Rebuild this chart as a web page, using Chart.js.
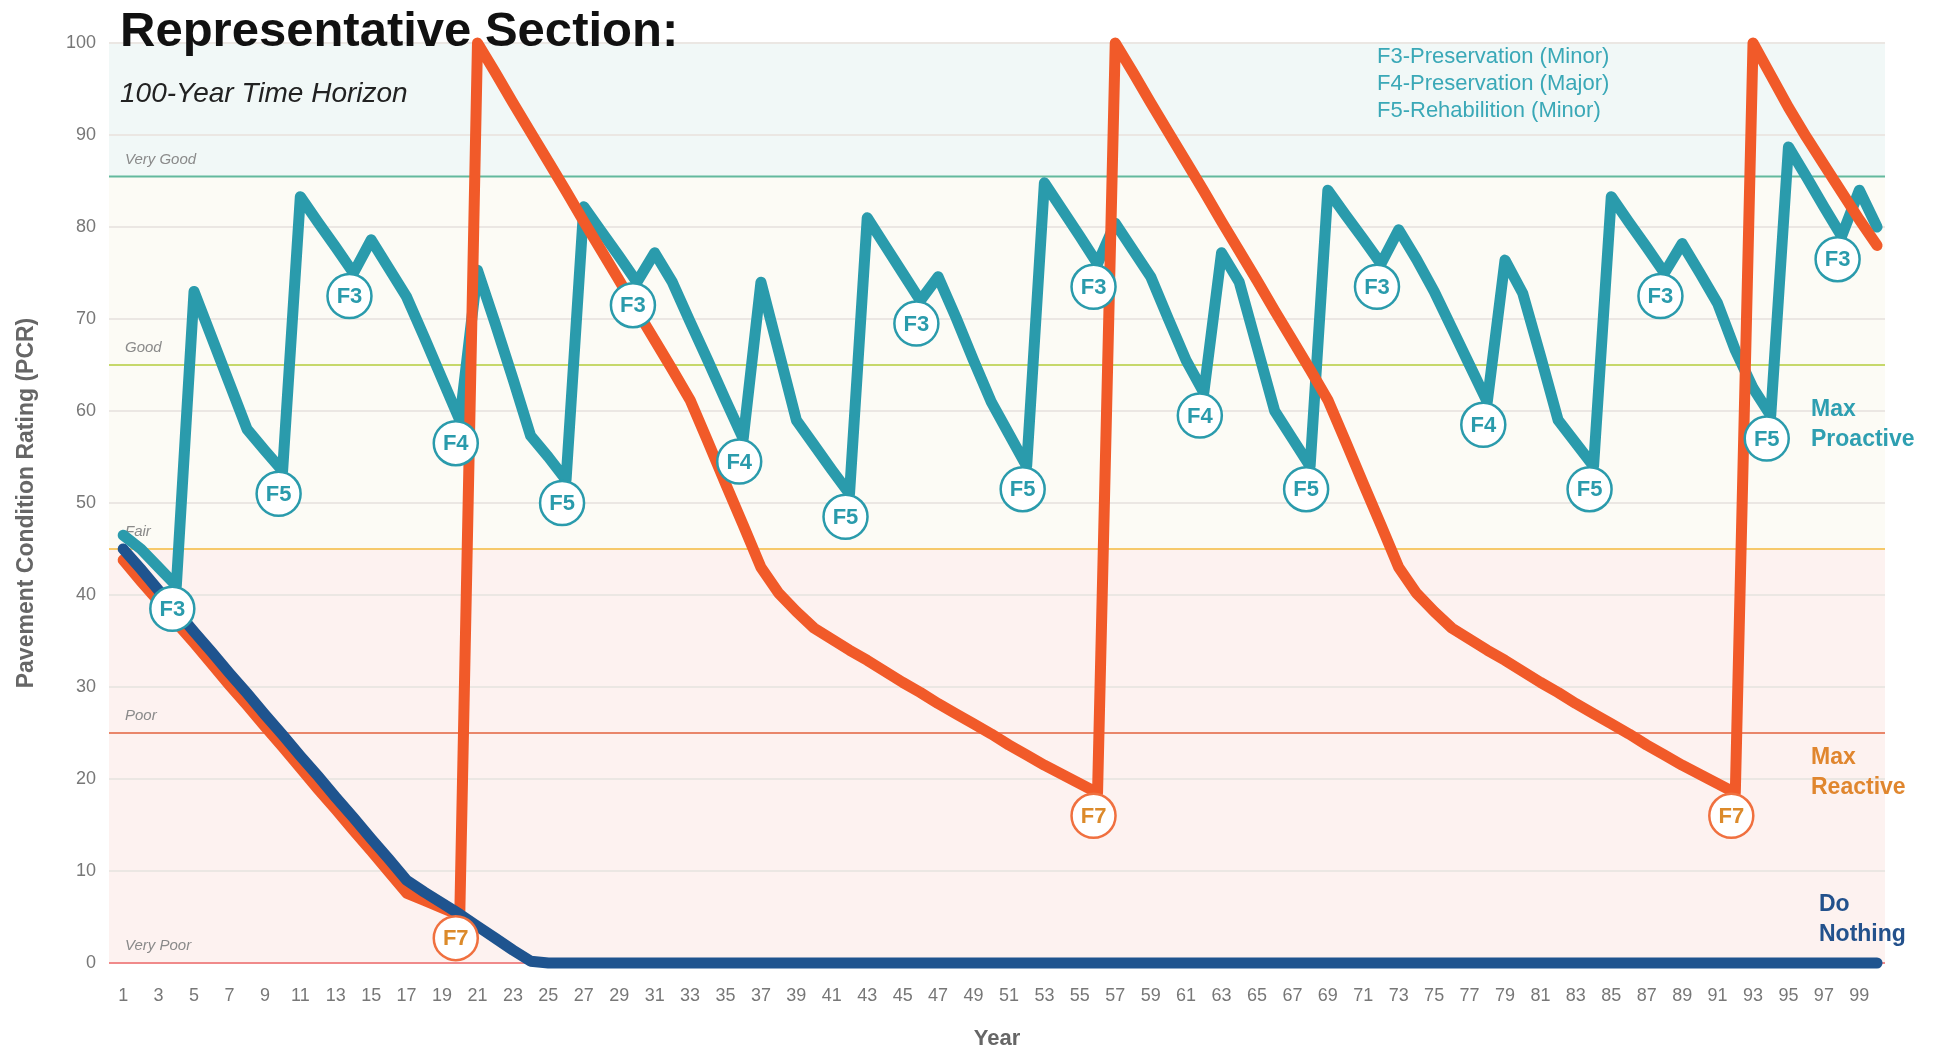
<!DOCTYPE html>
<html lang="en">
<head>
<meta charset="utf-8">
<title>Representative Section</title>
<script src="https://cdn.jsdelivr.net/npm/chart.js@4.4.1/dist/chart.umd.min.js"></script>
<style>
  html, body { margin: 0; padding: 0; background: #ffffff; }
  #wrap { width: 1936px; height: 1052px; position: relative; }
</style>
</head>
<body>
<div id="wrap"><canvas id="pcr"></canvas></div>
<script>
// years on the x axis
const years = Array.from({ length: 100 }, (_, i) => i + 1);
const yearTicks = years.filter(v => v % 2 === 1);

// PCR, year 1 .. 100
const maxProactive = [
  46.5, 45, 43, 41, 73, 68, 63, 58, 55.7, 53.5,
  83.3, 80.5, 77.8, 75, 78.6, 75.5, 72.4, 68, 63.5, 59,
  75.3, 69.5, 63.5, 57.3, 55, 52.5, 82.2, 79.5, 76.8, 74,
  77.2, 74, 69.7, 65.5, 61.2, 57, 74, 66.5, 59, 56.3,
  53.6, 51, 81, 78, 75, 72, 74.6, 70.2, 65.5, 61,
  57.5, 54, 84.8, 81.9, 79, 76, 80.4, 77.5, 74.6, 70,
  65.5, 62, 77.2, 74, 67, 60, 57, 54, 84, 81.3,
  78.7, 76, 79.7, 76.5, 73, 69, 65, 61, 76.4, 72.8,
  66, 59, 56.5, 54, 83.3, 80.5, 77.8, 75, 78.2, 75,
  71.7, 66.6, 62.5, 59.5, 88.7, 85.5, 82.2, 79, 84, 80
];
const maxReactive = [
  43.8, 41.5, 39.3, 37, 34.8, 32.5, 30.2, 28, 25.7, 23.5,
  21.2, 18.9, 16.7, 14.4, 12.2, 9.9, 7.6, 6.8, 6.0, 5.2,
  100, 96.8, 93.5, 90.3, 87.1, 83.9, 80.6, 77.4, 74.2, 70.9,
  67.7, 64.5, 61.2, 56.7, 52.1, 47.6, 43, 40.2, 38.2, 36.4,
  35.2, 34, 32.9, 31.7, 30.5, 29.4, 28.2, 27.1, 26, 24.9,
  23.7, 22.6, 21.5, 20.5, 19.5, 18.5, 100, 96.8, 93.5, 90.3,
  87.1, 83.9, 80.6, 77.4, 74.2, 70.9, 67.7, 64.5, 61.2, 56.7,
  52.1, 47.6, 43, 40.2, 38.2, 36.4, 35.2, 34, 32.9, 31.7,
  30.5, 29.4, 28.2, 27.1, 26, 24.9, 23.7, 22.6, 21.5, 20.5,
  19.5, 18.5, 100, 96.5, 93, 89.8, 86.8, 83.8, 80.8, 78
];
const doNothing = [
  45, 42.8, 40.5, 38.3, 36, 33.8, 31.5, 29.3, 27, 24.8,
  22.5, 20.3, 18, 15.8, 13.5, 11.3, 9, 7.7, 6.5, 5.3,
  4, 2.7, 1.4, 0.2, 0, 0, 0, 0, 0, 0,
  0, 0, 0, 0, 0, 0, 0, 0, 0, 0,
  0, 0, 0, 0, 0, 0, 0, 0, 0, 0,
  0, 0, 0, 0, 0, 0, 0, 0, 0, 0,
  0, 0, 0, 0, 0, 0, 0, 0, 0, 0,
  0, 0, 0, 0, 0, 0, 0, 0, 0, 0,
  0, 0, 0, 0, 0, 0, 0, 0, 0, 0,
  0, 0, 0, 0, 0, 0, 0, 0, 0, 0
];

// treatments marked with circles
const proTreatYears = [4, 10, 14, 20, 26, 30, 36, 42, 46, 52, 56, 62, 68, 72, 78, 84, 88, 94, 98];
const proTreatCodes = ['F3', 'F5', 'F3', 'F4', 'F5', 'F3', 'F4', 'F5', 'F3', 'F5', 'F3', 'F4', 'F5', 'F3', 'F4', 'F5', 'F3', 'F5', 'F3'];
const reactTreatYears = [20, 56, 92];
const reactTreatCodes = ['F7', 'F7', 'F7'];

// condition zones
const zoneNames = ['Very Good', 'Good', 'Fair', 'Poor', 'Very Poor'];
const zoneFloors = [85.5, 65, 45, 25, 0];
const legendLines = ['F3-Preservation (Minor)', 'F4-Preservation (Major)', 'F5-Rehabilition (Minor)'];

const FONT = '"Liberation Sans", Arial, sans-serif';
const TEAL = '#2a9bac';
const ORANGE = '#f15a29';
const NAVY = '#1f548f';

Chart.defaults.font.family = FONT;

const zoneLineColors = ['#63b99e', '#c6d86a', '#f6c96a', '#e9866a', '#f08a8a'];

const decor = {
  id: 'decor',
  beforeDraw(chart) {
    const { ctx, chartArea: a, scales: { y } } = chart;
    ctx.save();
    // background bands
    const bands = [[85.5, 100, '#f1f8f7'], [45, 85.5, '#fcfbf5'], [0, 45, '#fdf2f0']];
    bands.forEach(b => {
      const top = y.getPixelForValue(b[1]);
      const bot = y.getPixelForValue(b[0]);
      ctx.fillStyle = b[2];
      ctx.fillRect(a.left, top, a.right - a.left, bot - top);
    });
    ctx.restore();
  },
  beforeDatasetsDraw(chart) {
    const { ctx, chartArea: a, scales: { y } } = chart;
    ctx.save();
    zoneFloors.forEach((v, i) => {
      const py = y.getPixelForValue(v);
      ctx.strokeStyle = zoneLineColors[i];
      ctx.lineWidth = 2;
      ctx.beginPath();
      ctx.moveTo(a.left, py);
      ctx.lineTo(a.right, py);
      ctx.stroke();
      ctx.fillStyle = '#8a8a8a';
      ctx.font = 'italic 15px ' + FONT;
      ctx.textAlign = 'left';
      ctx.textBaseline = 'middle';
      ctx.fillText(zoneNames[i], a.left + 16, py - 17);
    });
    ctx.restore();
  },
  afterDatasetsDraw(chart) {
    const { ctx } = chart;
    const badge = (pt, text, stroke, color) => {
      const cx = pt.x - 4, cy = pt.y + 23;
      ctx.beginPath();
      ctx.arc(cx, cy, 22, 0, Math.PI * 2);
      ctx.fillStyle = '#ffffff';
      ctx.fill();
      ctx.lineWidth = 2.5;
      ctx.strokeStyle = stroke;
      ctx.stroke();
      ctx.fillStyle = color;
      ctx.font = 'bold 22px ' + FONT;
      ctx.textAlign = 'center';
      ctx.textBaseline = 'middle';
      ctx.fillText(text, cx, cy + 1);
    };
    ctx.save();
    const pro = chart.getDatasetMeta(2).data;
    proTreatYears.forEach((yr, i) => badge(pro[yr - 1], proTreatCodes[i], TEAL, TEAL));
    const re = chart.getDatasetMeta(1).data;
    reactTreatYears.forEach((yr, i) => badge(re[yr - 1], reactTreatCodes[i], '#f0703f', '#dc8a2a'));
    ctx.restore();
  },
  afterDraw(chart) {
    const { ctx } = chart;
    ctx.save();
    ctx.textAlign = 'left';
    ctx.textBaseline = 'alphabetic';
    ctx.fillStyle = '#111111';
    ctx.font = 'bold 49px ' + FONT;
    ctx.fillText('Representative Section:', 120, 46);
    ctx.fillStyle = '#222222';
    ctx.font = 'italic 28px ' + FONT;
    ctx.fillText('100-Year Time Horizon', 120, 102);

    ctx.textBaseline = 'middle';
    ctx.fillStyle = '#3aa8b7';
    ctx.font = '22px ' + FONT;
    legendLines.forEach((t, i) => ctx.fillText(t, 1377, 57 + i * 27));

    ctx.font = 'bold 23px ' + FONT;
    ctx.fillStyle = '#2e9fb1';
    ctx.fillText('Max', 1811, 410);
    ctx.fillText('Proactive', 1811, 440);
    ctx.fillStyle = '#e0862e';
    ctx.fillText('Max', 1811, 758);
    ctx.fillText('Reactive', 1811, 788);
    ctx.fillStyle = '#23518c';
    ctx.fillText('Do', 1819, 905);
    ctx.fillText('Nothing', 1819, 935);
    ctx.restore();
  }
};

const ctx = document.getElementById('pcr').getContext('2d');
const chart = new Chart(ctx, {
  type: 'line',
  data: {
    labels: years,
    datasets: [
      {
        label: 'Do Nothing',
        data: doNothing,
        borderColor: NAVY,
        borderWidth: 11
      },
      {
        label: 'Max Reactive',
        data: maxReactive,
        borderColor: ORANGE,
        borderWidth: 11
      },
      {
        label: 'Max Proactive',
        data: maxProactive,
        borderColor: TEAL,
        borderWidth: 11
      }
    ]
  },
  options: {
    responsive: true,
    maintainAspectRatio: false,
    animation: false,
    clip: false,
    elements: {
      point: { radius: 0, hoverRadius: 0 },
      line: { tension: 0, fill: false, borderJoinStyle: 'round', borderCapStyle: 'round' }
    },
    layout: { padding: { left: 0, right: 51, top: 43, bottom: 0 } },
    plugins: {
      legend: { display: false },
      tooltip: { enabled: false }
    },
    scales: {
      x: {
        type: 'linear',
        min: 0.2,
        max: 100.45,
        afterBuildTicks: s => { s.ticks = yearTicks.map(v => ({ value: v })); },
        afterFit: s => { s.height = 89; },
        grid: { display: false },
        border: { display: false },
        ticks: {
          autoSkip: false,
          maxRotation: 0,
          padding: 14,
          color: '#777777',
          font: { size: 18 },
          callback: v => String(v)
        },
        title: {
          display: true,
          text: 'Year',
          color: '#666666',
          font: { size: 22, weight: 'bold' },
          padding: { top: 0, bottom: 0 }
        }
      },
      y: {
        min: 0,
        max: 100,
        afterFit: s => { s.width = 109; },
        grid: {
          color: c => (c.tick.value === 0 ? 'rgba(0,0,0,0)' : '#ebe7e3'),
          lineWidth: 2,
          drawTicks: false
        },
        border: { display: false },
        ticks: {
          stepSize: 10,
          padding: 13,
          color: '#777777',
          font: { size: 18 }
        },
        title: {
          display: true,
          text: 'Pavement Condition Rating (PCR)',
          color: '#666666',
          font: { size: 23, weight: 'bold' },
          padding: { top: 13, bottom: 0 }
        }
      }
    }
  },
  plugins: [decor]
});
</script>
</body>
</html>
